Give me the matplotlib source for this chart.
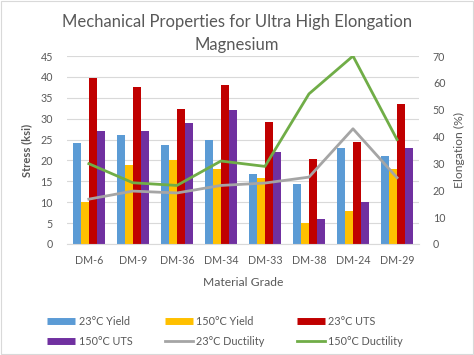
import numpy as np
import matplotlib.pyplot as plt
from matplotlib.lines import Line2D
from matplotlib.patches import Rectangle

plt.rcParams['font.family'] = ['Lato', 'DejaVu Sans']

grades = ['DM-6', 'DM-9', 'DM-36', 'DM-34', 'DM-33', 'DM-38', 'DM-24', 'DM-29']
yield_23 = [24.1, 26.2, 23.7, 25.0, 16.8, 14.3, 22.9, 21.0]
yield_150 = [10.0, 19.0, 20.0, 18.0, 15.9, 5.0, 7.9, 18.0]
uts_23 = [39.7, 37.5, 32.3, 38.0, 29.3, 20.3, 24.5, 33.4]
uts_150 = [27.0, 27.0, 29.0, 32.1, 22.0, 6.0, 10.0, 23.0]
duct_23 = [16.7, 19.7, 19.0, 21.8, 22.7, 24.9, 42.9, 24.7]
duct_150 = [29.9, 22.8, 21.8, 30.9, 28.9, 55.9, 70.0, 38.9]

c_blue = '#5B9BD5'
c_yellow = '#FFC000'
c_red = '#C00000'
c_purple = '#7030A0'
c_gray = '#A5A5A5'
c_green = '#70AD47'
txt = '#595959'

fig = plt.figure(figsize=(4.74, 3.55), dpi=100)
fig.patches.append(Rectangle((0.002, 0.003), 0.996, 0.994, transform=fig.transFigure,
                             fill=False, edgecolor='#D9D9D9', lw=0.8))
ax = fig.add_axes([0.141, 0.3127, 0.743, 0.5295])
x = np.arange(len(grades))
w = 0.185
ax.bar(x - 1.5 * w, yield_23, w, color=c_blue, zorder=2)
ax.bar(x - 0.5 * w, yield_150, w, color=c_yellow, zorder=2)
ax.bar(x + 0.5 * w, uts_23, w, color=c_red, zorder=2)
ax.bar(x + 1.5 * w, uts_150, w, color=c_purple, zorder=2)
ax.set_xlim(-0.5, len(grades) - 0.5)
ax.set_ylim(0, 45)
ax.set_yticks(np.arange(0, 46, 5))
ax.grid(axis='y', color='#D9D9D9', lw=0.8, zorder=0)
ax.set_axisbelow(True)
ax.set_xticks(x)
ax.set_xticklabels(grades)
ax.tick_params(length=0, labelsize=7.7, colors=txt, pad=8)
ax.tick_params(axis='y', pad=10)
for s in ['top', 'left', 'right']:
    ax.spines[s].set_visible(False)
ax.spines['bottom'].set_color('#D9D9D9')
ax.set_ylabel('Stress (ksi)', fontsize=8, fontweight='bold', color=txt, labelpad=6)
ax.set_xlabel('Material Grade', fontsize=8.7, color=txt, labelpad=8)

ax2 = ax.twinx()
ax2.plot(x, duct_23, color=c_gray, lw=2)
ax2.plot(x, duct_150, color=c_green, lw=2)
ax2.set_ylim(0, 70)
ax2.set_yticks(np.arange(0, 71, 10))
ax2.tick_params(length=0, labelsize=7.7, colors=txt, pad=10)
for s in ax2.spines.values():
    s.set_visible(False)
ax2.set_ylabel('Elongation (%)', fontsize=8.7, color=txt, labelpad=6)

fig.text(0.5, 0.937, 'Mechanical Properties for Ultra High Elongation',
         ha='center', va='center', fontsize=12, color=txt)
fig.text(0.5, 0.872, 'Magnesium', ha='center', va='center', fontsize=12, color=txt)

handles = [
    Line2D([], [], color=c_blue, lw=5, solid_capstyle='butt'),
    Line2D([], [], color=c_purple, lw=5, solid_capstyle='butt'),
    Line2D([], [], color=c_yellow, lw=5, solid_capstyle='butt'),
    Line2D([], [], color=c_gray, lw=2),
    Line2D([], [], color=c_red, lw=5, solid_capstyle='butt'),
    Line2D([], [], color=c_green, lw=2),
]
labels = ['23°C Yield', '150°C UTS', '150°C Yield', '23°C Ductility',
          '23°C UTS', '150°C Ductility']
leg = fig.legend(handles, labels, ncol=3, loc='center', bbox_to_anchor=(0.475, 0.067),
                 frameon=False, fontsize=7.8, handlelength=2.6, handletextpad=0.3,
                 columnspacing=3.0, labelspacing=0.85)
for t in leg.get_texts():
    t.set_color(txt)

fig.savefig('out.png', dpi=100)
